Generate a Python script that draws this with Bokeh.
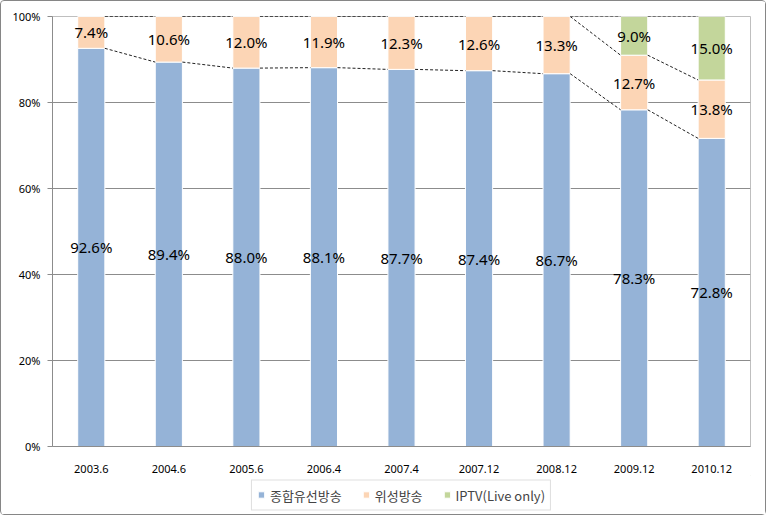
from bokeh.plotting import figure
from bokeh.models import ColumnDataSource, FixedTicker, Legend, LegendItem, Range1d
from bokeh.layouts import column
from bokeh.core.properties import value
from bokeh.embed import file_html
from bokeh.resources import INLINE

categories = ["2003.6", "2004.6", "2005.6", "2006.4", "2007.4", "2007.12", "2008.12", "2009.12", "2010.12"]
cable = [92.6, 89.4, 88.0, 88.1, 87.7, 87.4, 86.7, 78.3, 72.8]
satellite = [7.4, 10.6, 12.0, 11.9, 12.3, 12.6, 13.3, 12.7, 13.8]
iptv = [0, 0, 0, 0, 0, 0, 0, 9.0, 15.0]
series_names = ["종합유선방송", "위성방송", "IPTV(Live only)"]
colors = ["#95B3D7", "#FCD5B5", "#C3D69B"]
y_ticks = [0, 20, 40, 60, 80, 100]

n = len(categories)
xs = [i + 0.5 for i in range(n)]
W = 0.35

# normalise to 100% stacks
tot = [a + b + c for a, b, c in zip(cable, satellite, iptv)]
raw = [cable, satellite, iptv]
norm = [[v / t * 100 for v, t in zip(s, tot)] for s in raw]
bottoms, tops = [], []
acc = [0.0] * n
for s in norm:
    bottoms.append(list(acc))
    acc = [a + v for a, v in zip(acc, s)]
    tops.append(list(acc))

p = figure(width=764, height=474, output_backend="svg", toolbar_location=None,
           x_range=Range1d(0, n), y_range=Range1d(0, 100),
           min_border_left=51, min_border_right=15, min_border_top=15, min_border_bottom=29)
p.background_fill_color = "white"
p.border_fill_color = "white"
p.outline_line_color = "#bfbfbf"

for k in range(3):
    src = ColumnDataSource(dict(x=xs, top=tops[k], bottom=bottoms[k]))
    p.vbar(x="x", width=W, top="top", bottom="bottom", source=src,
           fill_color=colors[k], line_color="white", line_width=1)

# series lines
for k in range(3):
    x0 = [xs[i] + W / 2 for i in range(n - 1)]
    x1 = [xs[i + 1] - W / 2 for i in range(n - 1)]
    y0 = [tops[k][i] for i in range(n - 1)]
    y1 = [tops[k][i + 1] for i in range(n - 1)]
    p.segment(x0=x0, y0=y0, x1=x1, y1=y1, line_color="#222222", line_width=1, line_dash="3 2")

# data labels
lx, ly, lt = [], [], []
for k in range(3):
    for i in range(n):
        if raw[k][i] > 0:
            lx.append(xs[i])
            ly.append((tops[k][i] + bottoms[k][i]) / 2)
            lt.append(f"{raw[k][i]:.1f}%")
p.text(x=lx, y=ly, text=lt, text_align="center", text_baseline="middle",
       text_font=value("Noto Sans"), text_font_size="15px", text_color="#000000")

p.xgrid.visible = False
p.ygrid.ticker = FixedTicker(ticks=y_ticks)
p.ygrid.grid_line_color = "#8c8c8c"

p.yaxis.ticker = FixedTicker(ticks=y_ticks)
p.yaxis.major_label_overrides = {t: f"{t}%" for t in y_ticks}
p.yaxis.major_tick_in = 0
p.yaxis.major_tick_out = 5
p.yaxis.minor_tick_line_color = None
p.yaxis.axis_line_color = "#8c8c8c"
p.yaxis.major_tick_line_color = "#8c8c8c"
p.yaxis.major_label_text_font = "Noto Sans"
p.yaxis.major_label_text_font_size = "11px"
p.yaxis.major_label_text_color = "#000000"
p.yaxis.major_label_standoff = 7

p.xaxis.ticker = FixedTicker(ticks=xs)
p.xaxis.major_label_overrides = {x: c for x, c in zip(xs, categories)}
p.xaxis.major_tick_line_color = None
p.xaxis.minor_tick_line_color = None
p.xaxis.axis_line_color = "#8c8c8c"
p.xaxis.major_label_text_font = "Noto Sans"
p.xaxis.major_label_text_font_size = "11px"
p.xaxis.major_label_text_color = "#000000"
p.xaxis.major_label_standoff = 12

# legend strip
q = figure(width=764, height=39, output_backend="svg", toolbar_location=None,
           x_range=Range1d(0, 1), y_range=Range1d(0, 1), min_border=0)
q.axis.visible = False
q.grid.visible = False
q.outline_line_color = None
q.background_fill_color = "white"
q.border_fill_color = "white"
items = []
for k in range(3):
    r = q.vbar(x=[5], top=[5], bottom=[4], width=0.1, fill_color=colors[k], line_color="white")
    items.append(LegendItem(label=series_names[k], renderers=[r]))
legend = Legend(items=items, orientation="horizontal", location="center",
                label_text_font="Noto Sans CJK KR", label_text_font_size="13px",
                glyph_width=8, glyph_height=8, spacing=20, padding=5, margin=0,
                border_line_color="#bfbfbf", label_standoff=5)
q.add_layout(legend, "center")

layout = column(p, q, spacing=0,
                styles={"border": "1px solid #868686", "border-radius": "4px"})

open("out.html", "w").write(file_html(layout, INLINE))
